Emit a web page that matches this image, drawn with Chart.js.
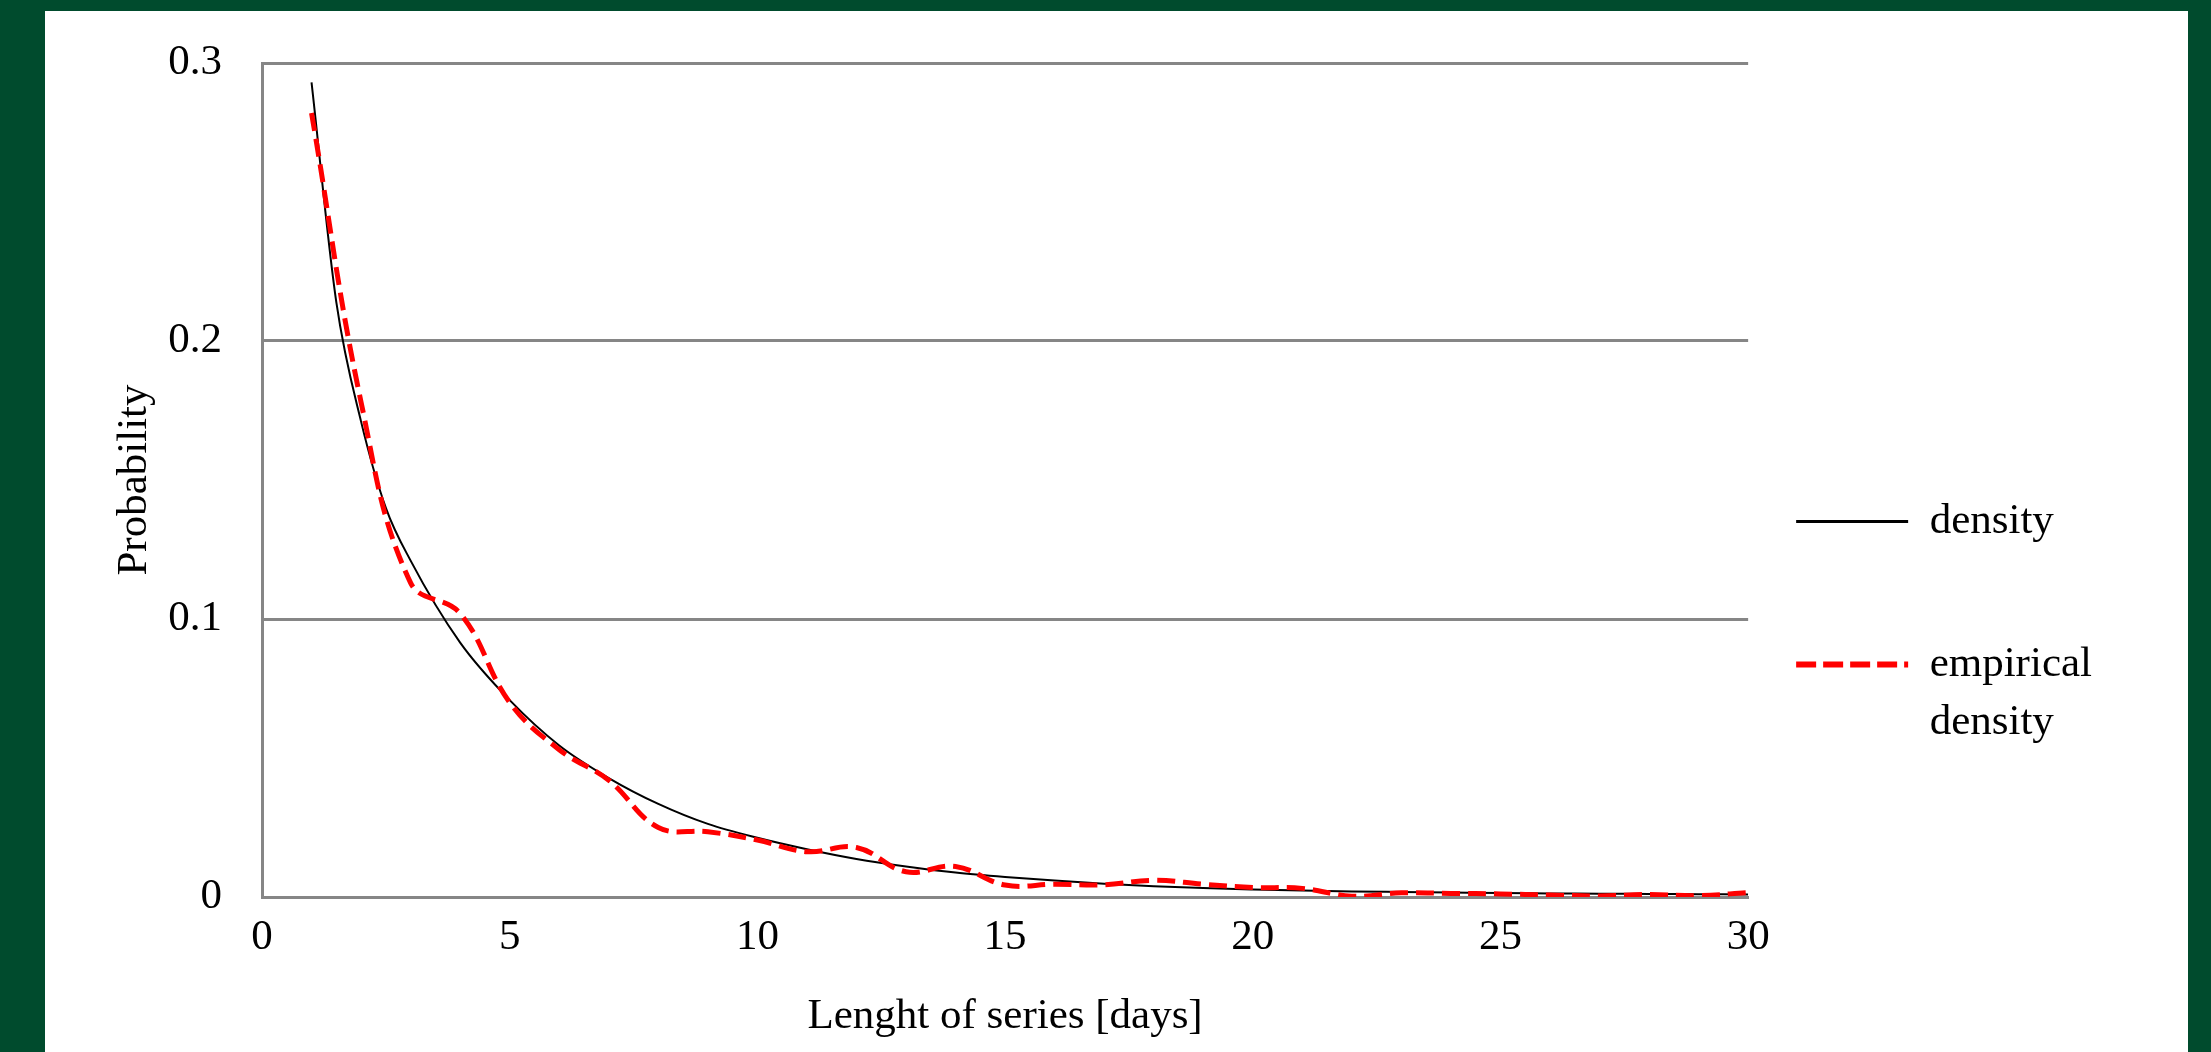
<!DOCTYPE html>
<html>
<head>
<meta charset="utf-8">
<script src="https://cdn.jsdelivr.net/npm/chart.js@4.4.1/dist/chart.umd.min.js"></script>
<style>
  html, body { margin: 0; padding: 0; }
  body { width: 2211px; height: 1052px; background: #004b2d; overflow: hidden; position: relative; }
  #box { position: absolute; left: 45px; top: 11px; width: 2143px; height: 1041px; background: #fff; }
</style>
</head>
<body>
<div id="box"><canvas id="myChart"></canvas></div>
<script>
// fitted density curve
const densityDays = [1, 1.5, 2, 2.5, 3, 4, 5, 6, 7, 8, 9, 10, 11, 12, 13, 14, 15, 16, 17, 18, 19, 20, 21, 22, 23, 24, 25, 26, 27, 28, 29, 30];
const densityValues = [0.293, 0.214, 0.171, 0.140, 0.121, 0.0915, 0.0708, 0.0545, 0.0428, 0.0335, 0.0263, 0.0213, 0.0172, 0.0137, 0.0110, 0.0088, 0.0072, 0.0059, 0.0048, 0.0039, 0.0032, 0.0027, 0.0023, 0.0020, 0.0018, 0.0016, 0.0014, 0.0013, 0.0012, 0.0011, 0.0010, 0.0009];

// empirical density
const empiricalDays = [1, 2, 3, 4, 5, 6, 7, 8, 9, 10, 11, 12, 13, 14, 15, 16, 17, 18, 19, 20, 21, 22, 23, 24, 25, 26, 27, 28, 29, 30];
const empiricalValues = [0.282, 0.178, 0.113, 0.102, 0.070, 0.053, 0.042, 0.025, 0.0235, 0.0205, 0.0163, 0.0178, 0.0091, 0.0110, 0.0043, 0.0046, 0.0044, 0.0060, 0.0046, 0.0034, 0.0031, 0.0003, 0.0015, 0.0013, 0.0011, 0.0007, 0.0004, 0.0009, 0.0005, 0.0016];

const xTickValues = [0, 5, 10, 15, 20, 25, 30];
const xTickLabels = ['0', '5', '10', '15', '20', '25', '30'];
const yTickValues = [0, 0.1, 0.2, 0.3];
const yTickLabels = ['0', '0.1', '0.2', '0.3'];
const legendText = [['density', ''], ['empirical', 'density']];

Chart.defaults.font.family = "'Liberation Serif', 'Times New Roman', serif";
Chart.defaults.font.size = 43;
Chart.defaults.color = '#000';

const ctx = document.getElementById('myChart');

new Chart(ctx, {
    type: 'line',
    data: {
        datasets: [{
            label: 'density',
            data: densityDays.map((d, i) => ({ x: d, y: densityValues[i] })),
            borderColor: '#000000',
            borderWidth: 2,
            pointRadius: 0,
            cubicInterpolationMode: 'monotone',
            order: 1
        }, {
            label: 'empirical density',
            data: empiricalDays.map((d, i) => ({ x: d, y: empiricalValues[i] })),
            borderColor: '#ff0000',
            borderWidth: 5,
            borderDash: [18, 8],
            pointRadius: 0,
            tension: 0.4,
            order: 0
        }]
    },
    options: {
        responsive: true,
        maintainAspectRatio: false,
        animation: false,
        layout: { padding: { top: 52, right: 86, bottom: 0, left: 0 } },
        plugins: {
            tooltip: { enabled: false },
            legend: {
                position: 'right',
                align: 'start',
                title: { display: true, text: ' ', font: { size: 10 }, padding: { top: 0, bottom: 398 } },
                labels: {
                    usePointStyle: true,
                    pointStyle: 'line',
                    pointStyleWidth: 112,
                    padding: 27,
                    color: '#000',
                    font: { size: 43, lineHeight: 1.35 },
                    sort: (a, b) => a.datasetIndex - b.datasetIndex,
                    generateLabels: function (chart) {
                        let items = Chart.defaults.plugins.legend.labels.generateLabels(chart);
                        items.forEach(function (it) {
                            it.text = legendText[it.datasetIndex];
                            it.lineWidth = it.datasetIndex === 0 ? 3 : 6;
                            it.lineDash = it.datasetIndex === 0 ? [] : [20, 7];
                        });
                        return items;
                    }
                }
            }
        },
        scales: {
            x: {
                type: 'linear',
                min: 0,
                max: 30,
                afterBuildTicks: function (s) { s.ticks = xTickValues.map(v => ({ value: v })); },
                afterFit: function (s) { s.height = 155; },
                grid: { display: false, drawTicks: false },
                border: { display: true, color: '#868686', width: 3 },
                ticks: { color: '#000', padding: 15, maxRotation: 0, autoSkip: false, callback: (v, i) => xTickLabels[i] },
                title: { display: true, text: 'Lenght of series [days]', color: '#000', font: { size: 43 }, padding: { top: 0, bottom: 9 } }
            },
            y: {
                min: 0,
                max: 0.3,
                afterBuildTicks: function (s) { s.ticks = yTickValues.map(v => ({ value: v })); },
                afterFit: function (s) { s.width = 217; },
                grid: { color: '#868686', lineWidth: 3, drawTicks: true, tickLength: 40, tickColor: 'rgba(0,0,0,0)' },
                border: { display: true, color: '#868686', width: 3 },
                ticks: { color: '#000', padding: 0, callback: (v, i) => yTickLabels[i] },
                title: { display: true, text: 'Probability', color: '#000', font: { size: 43 }, padding: { top: 64, bottom: 0 } }
            },
            // empty spacer between the plot and the legend
            yRight: {
                position: 'right',
                min: 0,
                max: 1,
                afterFit: function (s) { s.width = 21; },
                grid: { display: false, drawTicks: false },
                border: { display: false },
                ticks: { display: false }
            }
        }
    }
});
</script>
</body>
</html>
